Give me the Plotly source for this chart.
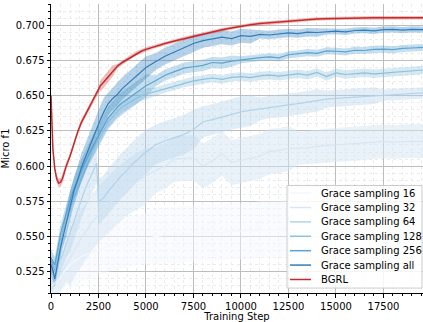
import plotly.graph_objects as go

steps = [0, 100, 200, 300, 400, 500, 600, 800, 1000, 1200, 1400, 1600, 1800, 2000, 2200, 2400,
         2500, 2600, 2800, 3000, 3250, 3500, 3750, 4000, 4250, 4500, 4750, 5000,
         5500, 6000, 6500, 7000, 7500, 8000, 8500, 9000, 9500, 10000, 10500, 11000, 11500,
         12000, 12500, 13000, 13500, 14000, 14500, 15000, 15500, 16000, 16500, 17000, 17500,
         18000, 18500, 19000, 19580]

g16 = [0.515, 0.516, 0.517, 0.518, 0.520, 0.522, 0.524, 0.527, 0.530, 0.532, 0.534, 0.536, 0.537, 0.538, 0.539, 0.540,
       0.541, 0.541, 0.542, 0.543, 0.544, 0.544, 0.545, 0.546, 0.547, 0.547, 0.548, 0.549,
       0.550, 0.551, 0.551, 0.552, 0.552, 0.553, 0.553, 0.553, 0.554, 0.554, 0.554, 0.555, 0.555,
       0.555, 0.556, 0.556, 0.556, 0.556, 0.557, 0.557, 0.557, 0.557, 0.558, 0.558, 0.558,
       0.558, 0.558, 0.559, 0.559]
g16_err = [0.012] * 8 + [0.018] * 20 + [0.02] * 15 + [0.015] * 14

g32 = [0.515, 0.515, 0.517, 0.519, 0.521, 0.523, 0.525, 0.530, 0.535, 0.540, 0.545, 0.549, 0.553, 0.557, 0.561, 0.564,
       0.566, 0.567, 0.570, 0.573, 0.576, 0.579, 0.582, 0.585, 0.587, 0.589, 0.591, 0.593,
       0.597, 0.600, 0.605, 0.6055, 0.606, 0.600, 0.604, 0.609, 0.6025, 0.604, 0.6055, 0.607, 0.6105,
       0.611, 0.6125, 0.6128, 0.613, 0.614, 0.6145, 0.615, 0.6155, 0.6158, 0.616, 0.6168, 0.6175,
       0.617, 0.6175, 0.6178, 0.6175]
g32_err = [0.012] * 8 + [0.02] * 20 + [0.016] * 15 + [0.012] * 14

g64 = [0.522, 0.522, 0.525, 0.528, 0.531, 0.534, 0.537, 0.545, 0.553, 0.561, 0.569, 0.577, 0.584, 0.590, 0.596, 0.602,
       0.576, 0.5755, 0.578, 0.582, 0.586, 0.590, 0.594, 0.597, 0.601, 0.604, 0.607, 0.610,
       0.615, 0.618, 0.620, 0.6225, 0.626, 0.6315, 0.633, 0.635, 0.637, 0.6385, 0.6395, 0.6405, 0.642,
       0.6425, 0.6435, 0.6443, 0.6455, 0.6465, 0.6475, 0.648, 0.6485, 0.649, 0.6495, 0.650, 0.6504,
       0.6508, 0.651, 0.6515, 0.652]
g64_err = [0.01] * 8 + [0.014] * 8 + [0.016] * 12 + [0.014] * 5 + [0.011] * 6 + [0.008] * 7 + [0.006] * 6 + [0.004] * 5

g128 = [0.530, 0.528, 0.526, 0.533, 0.540, 0.547, 0.553, 0.563, 0.572, 0.580, 0.587, 0.594, 0.600, 0.606, 0.611, 0.616,
        0.619, 0.621, 0.626, 0.631, 0.635, 0.639, 0.642, 0.644, 0.646, 0.648, 0.650, 0.651,
        0.653, 0.655, 0.657, 0.659, 0.6605, 0.6615, 0.6625, 0.6615, 0.6630, 0.6635, 0.6628, 0.6640, 0.6645,
        0.6638, 0.6648, 0.6655, 0.6645, 0.6665, 0.6635, 0.6662, 0.6650, 0.6658, 0.6662, 0.6655, 0.6660,
        0.6665, 0.6670, 0.6678, 0.6682]
g128_err = [0.004] * 28 + [0.003] * 29

g256 = [0.535, 0.532, 0.530, 0.537, 0.545, 0.552, 0.557, 0.567, 0.576, 0.584, 0.591, 0.597, 0.603, 0.609, 0.614, 0.619,
        0.622, 0.624, 0.629, 0.634, 0.638, 0.642, 0.645, 0.6475, 0.650, 0.652, 0.6545, 0.657,
        0.6605, 0.6645, 0.667, 0.6695, 0.6705, 0.6715, 0.6735, 0.6730, 0.6745, 0.6755, 0.6762, 0.6770, 0.6775,
        0.6768, 0.6790, 0.6795, 0.6805, 0.6800, 0.6818, 0.6815, 0.6810, 0.6822, 0.6820, 0.6828, 0.6830,
        0.6826, 0.6835, 0.6838, 0.6842]
g256_err = [0.006] * 8 + [0.008] * 20 + [0.004] * 9 + [0.0025] * 20

gall = [0.530, 0.526, 0.520, 0.528, 0.535, 0.542, 0.548, 0.560, 0.572, 0.582, 0.590, 0.599, 0.606, 0.613, 0.620, 0.627,
        0.630, 0.633, 0.639, 0.644, 0.648, 0.651, 0.655, 0.658, 0.661, 0.664, 0.667, 0.670,
        0.674, 0.678, 0.681, 0.684, 0.687, 0.689, 0.6905, 0.6915, 0.6905, 0.6925, 0.6920, 0.6935, 0.6930,
        0.6940, 0.6945, 0.6940, 0.6950, 0.6948, 0.6955, 0.6958, 0.6952, 0.6962, 0.6965, 0.6960, 0.6968,
        0.6970, 0.6965, 0.6970, 0.6968]
gall_err = [0.006] * 7 + [0.010] * 12 + [0.008] * 9 + [0.006] * 5 + [0.005] * 6 + [0.003] * 7 + [0.0022] * 11

bgrl = [0.650, 0.612, 0.598, 0.591, 0.588, 0.5885, 0.591, 0.600, 0.607, 0.616, 0.624, 0.631, 0.636, 0.641, 0.646, 0.651,
        0.654, 0.657, 0.660, 0.663, 0.6675, 0.671, 0.6735, 0.6755, 0.678, 0.6800, 0.6815, 0.6828,
        0.685, 0.687, 0.6888, 0.6905, 0.6922, 0.6938, 0.6953, 0.6968, 0.698, 0.6993, 0.7003, 0.7012, 0.7018,
        0.7022, 0.7027, 0.7033, 0.7040, 0.7044, 0.7046, 0.7048, 0.7050, 0.7051, 0.7051, 0.7052, 0.7052,
        0.7052, 0.7052, 0.7052, 0.7052]
bgrl_err = [0.003] * 8 + [0.002] * 9 + [0.004] * 4 + [0.0015] * 7 + [0.0012] * 29

names = ["Grace sampling 16", "Grace sampling 32", "Grace sampling 64", "Grace sampling 128",
         "Grace sampling 256", "Grace sampling all", "BGRL"]
series = [g16, g32, g64, g128, g256, gall, bgrl]
errors = [g16_err, g32_err, g64_err, g128_err, g256_err, gall_err, bgrl_err]
colors = ["#f3f8fd", "#d6e6f4", "#b3d3ea", "#8cc0de", "#5ba3d0", "#2f7ebc", "#c62b2b"]
band_alpha = [0.5, 0.5, 0.4, 0.35, 0.35, 0.35, 0.3]

W, H = 423, 322
ML, MR, MT, MB = 51, 0, 4, 25
PW, PH = W - ML - MR, H - MT - MB


def rgba(h, a):
    h = h.lstrip("#")
    return "rgba(%d,%d,%d,%.2f)" % (int(h[0:2], 16), int(h[2:4], 16), int(h[4:6], 16), a)


def px(x):
    return (x - ML) / PW


def py(y):
    return (H - MB - y) / PH


fig = go.Figure()
for name, ys, err, col, a in zip(names, series, errors, colors, band_alpha):
    upper = [y + e for y, e in zip(ys, err)]
    lower = [y - e for y, e in zip(ys, err)]
    fig.add_trace(go.Scatter(x=steps + steps[::-1], y=upper + lower[::-1], fill="toself",
                             fillcolor=rgba(col, a), line=dict(width=0), hoverinfo="skip",
                             showlegend=False, mode="lines"))
for name, ys, col in zip(names, series, colors):
    fig.add_trace(go.Scatter(x=steps, y=ys, mode="lines", name=name, showlegend=False,
                             line=dict(color=col, width=1.5 if name == "BGRL" else 1.2)))

font = dict(family="DejaVu Sans", size=10, color="black")

# legend box drawn in paper coordinates
shapes = [dict(type="rect", xref="paper", yref="paper", x0=px(287), x1=px(422), y0=py(292), y1=py(188),
               line=dict(color="#cccccc", width=1), fillcolor="rgba(255,255,255,0.85)", layer="above")]
annotations = []
row0, gap = 195.7, 14.6
for i, (name, col) in enumerate(zip(names, colors)):
    yy = py(row0 + i * gap)
    shapes.append(dict(type="line", xref="paper", yref="paper", x0=px(290), x1=px(311), y0=yy, y1=yy,
                       line=dict(color=col, width=1.5), layer="above"))
    annotations.append(dict(xref="paper", yref="paper", x=px(319), y=yy, text=name, showarrow=False,
                            xanchor="left", yanchor="middle", font=font))

fig.update_layout(
    width=W, height=H,
    margin=dict(l=ML, r=MR, t=MT, b=MB),
    paper_bgcolor="white", plot_bgcolor="white",
    font=font,
    showlegend=False,
    shapes=shapes, annotations=annotations,
    xaxis=dict(range=[0, 19580], dtick=2500, tick0=0, tickformat="d",
               showgrid=True, gridcolor="#bdbdbd", gridwidth=1,
               showline=True, linecolor="black", linewidth=1,
               ticks="outside", ticklen=3.5, tickcolor="black", zeroline=False,
               minor=dict(dtick=500, showgrid=True, gridcolor="#ebebeb", griddash="dot",
                          ticks="outside", ticklen=2, tickcolor="black"),
               title=dict(text="Training Step", standoff=3, font=font)),
    yaxis=dict(range=[0.510, 0.715], dtick=0.025, tick0=0.5, tickformat=".3f",
               showgrid=True, gridcolor="#bdbdbd", gridwidth=1,
               showline=True, linecolor="black", linewidth=1,
               ticks="outside", ticklen=3.5, tickcolor="black", zeroline=False,
               minor=dict(dtick=0.005, showgrid=True, gridcolor="#ebebeb", griddash="dot",
                          ticks="outside", ticklen=2, tickcolor="black"),
               title=dict(text="Micro f1", standoff=4, font=font)),
)

fig.write_html("out.html", config={"displayModeBar": False},
               post_script="document.body.style.margin='0';document.body.style.overflow='hidden';")
